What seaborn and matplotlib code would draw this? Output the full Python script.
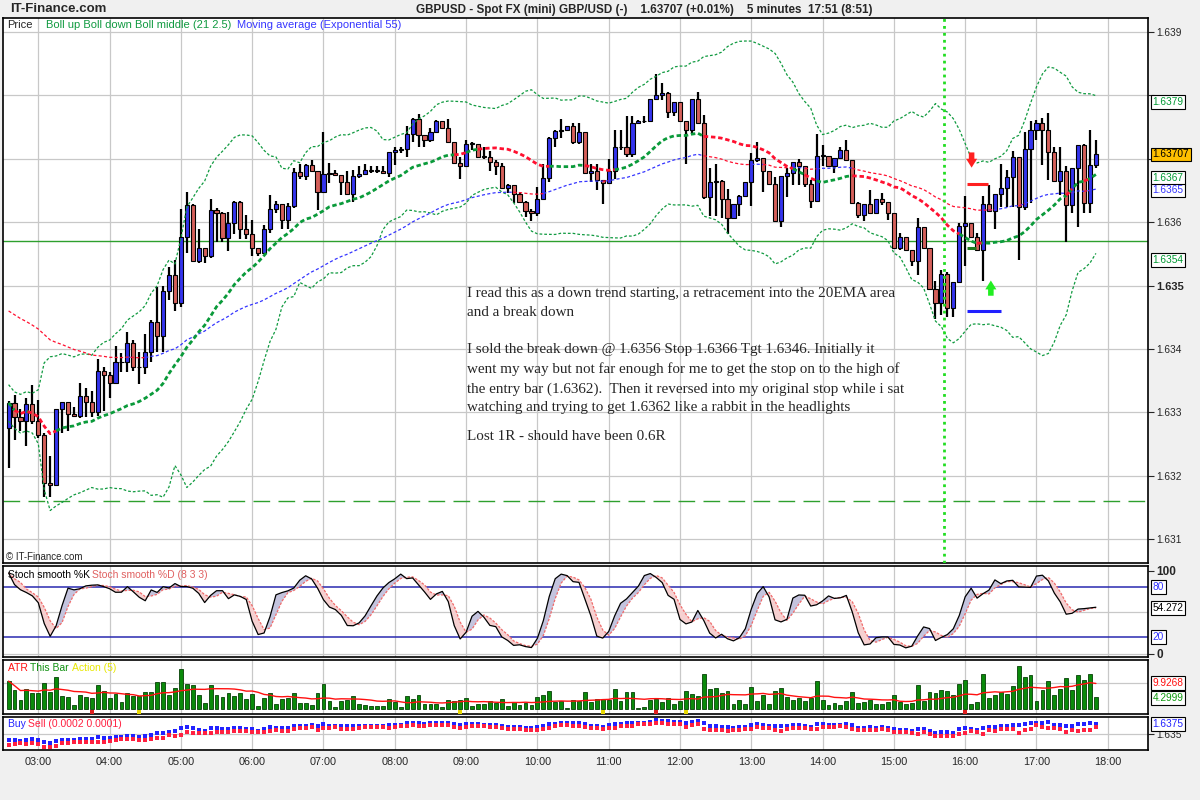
import numpy as np
import pandas as pd
import matplotlib
matplotlib.use("Agg")
import matplotlib.pyplot as plt
import seaborn as sns

# GBPUSD 5 minute bars, 02:35 -> 17:50
first_open = 1.63275
close = [
    1.63315, 1.63292, 1.63287, 1.63313, 1.63287, 1.63265, 1.63188, 1.63185, 1.63305, 1.63317, 1.63297, 1.63294,
    1.63326, 1.63317, 1.63300, 1.63365, 1.63359, 1.63347, 1.63379, 1.63380, 1.63409, 1.63371, 1.63372, 1.63395,
    1.63443, 1.63420, 1.63491, 1.63517, 1.63473, 1.63576, 1.63627, 1.63538, 1.63560, 1.63546, 1.63619, 1.63614,
    1.63575, 1.63598, 1.63632, 1.63590, 1.63581, 1.63559, 1.63552, 1.63590, 1.63620, 1.63629, 1.63603, 1.63626,
    1.63679, 1.63673, 1.63690, 1.63680, 1.63648, 1.63676, 1.63678, 1.63674, 1.63663, 1.63645, 1.63673, 1.63676,
    1.63683, 1.63681, 1.63681, 1.63677, 1.63710, 1.63714, 1.63715, 1.63739, 1.63763, 1.63738, 1.63730, 1.63742,
    1.63760, 1.63749, 1.63726, 1.63693, 1.63688, 1.63723, 1.63723, 1.63703, 1.63703, 1.63695, 1.63688, 1.63654,
    1.63659, 1.63644, 1.63632, 1.63618, 1.63614, 1.63636, 1.63669, 1.63732, 1.63744, 1.63745, 1.63751, 1.63726,
    1.63742, 1.63677, 1.63681, 1.63666, 1.63662, 1.63681, 1.63718, 1.63719, 1.63707, 1.63757, 1.63759, 1.63760,
    1.63795, 1.63801, 1.63803, 1.63773, 1.63789, 1.63759, 1.63745, 1.63795, 1.63756, 1.63639, 1.63663, 1.63665,
    1.63636, 1.63606, 1.63628, 1.63641, 1.63663, 1.63698, 1.63701, 1.63680, 1.63660, 1.63602, 1.63673, 1.63677,
    1.63695, 1.63688, 1.63660, 1.63633, 1.63704, 1.63704, 1.63688, 1.63701, 1.63714, 1.63698, 1.63631, 1.63611,
    1.63629, 1.63615, 1.63636, 1.63632, 1.63615, 1.63560, 1.63576, 1.63556, 1.63538, 1.63592, 1.63559, 1.63494,
    1.63473, 1.63518, 1.63464, 1.63505, 1.63594, 1.63598, 1.63577, 1.63556, 1.63629, 1.63617, 1.63644, 1.63654,
    1.63672, 1.63703, 1.63624, 1.63716, 1.63746, 1.63756, 1.63746, 1.63710, 1.63665, 1.63680, 1.63627, 1.63685,
    1.63722, 1.63630, 1.63690, 1.63707,
]
high = [
    1.63318, 1.63328, 1.63305, 1.63322, 1.63344, 1.63320, 1.63267, 1.63231, 1.63305, 1.63317, 1.63317, 1.63309,
    1.63346, 1.63338, 1.63334, 1.63385, 1.63371, 1.63364, 1.63405, 1.63393, 1.63427, 1.63414, 1.63396, 1.63424,
    1.63446, 1.63497, 1.63499, 1.63530, 1.63541, 1.63620, 1.63647, 1.63629, 1.63590, 1.63559, 1.63636, 1.63623,
    1.63616, 1.63616, 1.63633, 1.63633, 1.63611, 1.63604, 1.63559, 1.63595, 1.63643, 1.63633, 1.63629, 1.63631,
    1.63685, 1.63692, 1.63692, 1.63698, 1.63678, 1.63742, 1.63693, 1.63682, 1.63666, 1.63681, 1.63682, 1.63689,
    1.63692, 1.63689, 1.63689, 1.63689, 1.63710, 1.63718, 1.63719, 1.63752, 1.63765, 1.63771, 1.63738, 1.63748,
    1.63761, 1.63760, 1.63763, 1.63726, 1.63703, 1.63730, 1.63727, 1.63723, 1.63719, 1.63712, 1.63698, 1.63694,
    1.63660, 1.63659, 1.63648, 1.63634, 1.63620, 1.63656, 1.63691, 1.63734, 1.63745, 1.63762, 1.63752, 1.63757,
    1.63756, 1.63742, 1.63691, 1.63691, 1.63666, 1.63699, 1.63745, 1.63745, 1.63767, 1.63767, 1.63761, 1.63767,
    1.63795, 1.63834, 1.63819, 1.63806, 1.63789, 1.63789, 1.63759, 1.63795, 1.63806, 1.63769, 1.63686, 1.63691,
    1.63666, 1.63652, 1.63628, 1.63643, 1.63663, 1.63709, 1.63726, 1.63701, 1.63680, 1.63672, 1.63673, 1.63685,
    1.63695, 1.63700, 1.63688, 1.63666, 1.63739, 1.63722, 1.63704, 1.63701, 1.63719, 1.63730, 1.63698, 1.63632,
    1.63629, 1.63651, 1.63636, 1.63646, 1.63632, 1.63615, 1.63583, 1.63576, 1.63556, 1.63607, 1.63592, 1.63559,
    1.63508, 1.63525, 1.63521, 1.63505, 1.63599, 1.63641, 1.63598, 1.63583, 1.63641, 1.63659, 1.63644, 1.63691,
    1.63683, 1.63713, 1.63703, 1.63742, 1.63760, 1.63761, 1.63764, 1.63772, 1.63719, 1.63719, 1.63688, 1.63685,
    1.63722, 1.63724, 1.63746, 1.63730,
]
low = [
    1.63212, 1.63256, 1.63271, 1.63247, 1.63281, 1.63259, 1.63167, 1.63166, 1.63185, 1.63268, 1.63271, 1.63292,
    1.63291, 1.63292, 1.63292, 1.63295, 1.63303, 1.63323, 1.63346, 1.63364, 1.63364, 1.63365, 1.63345, 1.63360,
    1.63380, 1.63395, 1.63395, 1.63477, 1.63460, 1.63467, 1.63551, 1.63538, 1.63535, 1.63536, 1.63543, 1.63568,
    1.63568, 1.63554, 1.63582, 1.63573, 1.63573, 1.63546, 1.63546, 1.63552, 1.63583, 1.63614, 1.63590, 1.63590,
    1.63622, 1.63668, 1.63666, 1.63680, 1.63619, 1.63661, 1.63661, 1.63674, 1.63643, 1.63645, 1.63632, 1.63670,
    1.63677, 1.63677, 1.63677, 1.63677, 1.63672, 1.63690, 1.63709, 1.63703, 1.63727, 1.63718, 1.63718, 1.63727,
    1.63741, 1.63749, 1.63726, 1.63693, 1.63668, 1.63688, 1.63714, 1.63703, 1.63700, 1.63681, 1.63674, 1.63654,
    1.63646, 1.63630, 1.63631, 1.63608, 1.63602, 1.63610, 1.63636, 1.63664, 1.63718, 1.63732, 1.63745, 1.63723,
    1.63723, 1.63677, 1.63664, 1.63651, 1.63628, 1.63662, 1.63668, 1.63714, 1.63702, 1.63702, 1.63757, 1.63756,
    1.63760, 1.63795, 1.63792, 1.63765, 1.63768, 1.63759, 1.63691, 1.63739, 1.63756, 1.63636, 1.63610, 1.63610,
    1.63606, 1.63582, 1.63606, 1.63609, 1.63641, 1.63625, 1.63695, 1.63648, 1.63660, 1.63602, 1.63592, 1.63640,
    1.63659, 1.63659, 1.63655, 1.63623, 1.63633, 1.63688, 1.63688, 1.63678, 1.63701, 1.63698, 1.63631, 1.63606,
    1.63602, 1.63615, 1.63615, 1.63627, 1.63603, 1.63560, 1.63556, 1.63556, 1.63531, 1.63517, 1.63559, 1.63494,
    1.63448, 1.63454, 1.63451, 1.63451, 1.63505, 1.63531, 1.63577, 1.63556, 1.63508, 1.63617, 1.63590, 1.63624,
    1.63624, 1.63624, 1.63541, 1.63619, 1.63631, 1.63730, 1.63690, 1.63666, 1.63665, 1.63643, 1.63569, 1.63614,
    1.63593, 1.63614, 1.63614, 1.63685,
]
ema_start = 1.6346  # EMA55 value at the first bar

# trade notes drawn on the chart
entry_level, stop_level, target_level = 1.6356, 1.6366, 1.6346
user_line = 1.6357
old_low_line = 1.6316
entry_marker_time = 15.70
note_lines = [
    "I read this as a down trend starting, a retracement into the 20EMA area",
    "and a break down",
    "I sold the break down @ 1.6356 Stop 1.6366 Tgt 1.6346. Initially it",
    "went my way but not far enough for me to get the stop on to the high of",
    "the entry bar (1.6362).  Then it reversed into my original stop while i sat",
    "watching and trying to get 1.6362 like a rabbit in the headlights",
    "Lost 1R - should have been 0.6R",
]
note_rows = [294, 313, 350, 369, 389, 408, 437]

main_boxes = [("1.6379", 1.6379, "#009933", "white"), ("1.63707", 1.63707, "black", "#FFC000"),
              ("1.6367", 1.6367, "#009933", "white"), ("1.6365", 1.6365, "#3333FF", "white"),
              ("1.6354", 1.6354, "#009933", "white")]
hidden_ticks = ["1.637", "1.638"]   # covered by the value boxes on the reference
yellow_action = [4.4167, 8.9167, 10.9167, 12.0833]
red_action = [3.75, 11.6667, 16.0]

# ---- derived series ----
n = len(close)
t = pd.date_range("2009-06-01 02:35", periods=n, freq="5min")
x = np.asarray(t.hour + t.minute / 60.0)
c = pd.Series(close)
o = c.shift(1).fillna(first_open)
h = pd.Series(np.maximum.reduce([np.array(high), o.values, c.values]))
l = pd.Series(np.minimum.reduce([np.array(low), o.values, c.values]))

mid = c.rolling(21, min_periods=1).mean()
sd = c.rolling(21, min_periods=2).std(ddof=0).bfill()
bb_up = mid + 2.5 * sd
bb_dn = mid - 2.5 * sd
ema = pd.Series([ema_start] + close[1:]).ewm(span=55, adjust=False).mean()

ll = l.rolling(8, min_periods=1).min()
hh = h.rolling(8, min_periods=1).max()
raw_k = 100 * (c - ll) / (hh - ll)
k = raw_k.rolling(3, min_periods=1).mean()
d = k.rolling(3, min_periods=1).mean()

rng = (h - l) * 1e4
atr = rng.rolling(14, min_periods=1).mean()
buy = h + 0.0002
sell = l - 0.0001

# ---- figure ----
sns.set_style("white")
plt.rcParams["font.family"] = ["Liberation Sans", "DejaVu Sans"]
fig = plt.figure(figsize=(12, 8), dpi=100, facecolor="#F0F0F0")
W, H = 1200, 800

def panel(top, bottom):
    return fig.add_axes([3 / W, 1 - bottom / H, 1145 / W, (bottom - top) / H], facecolor="white")

ax = panel(18, 563)
ax_st = panel(566, 657)
ax_atr = panel(660, 714)
ax_bs = panel(717, 750)
xlim = (2.505, 18.564)
hours = np.arange(3, 19)
grid_c = "#C8C8C8"

for a in (ax, ax_st, ax_atr, ax_bs):
    a.set_xlim(*xlim)
    a.set_xticks(hours)
    a.tick_params(axis="x", labelbottom=False, length=0)
    for v in hours:
        a.axvline(v, color=grid_c, lw=0.9, zorder=0)
    for s in a.spines.values():
        s.set_color("black")
        s.set_linewidth(1.2)
    a.yaxis.tick_right()
    a.tick_params(axis="y", length=4, width=0.8, labelsize=7.3, pad=2, direction="out", right=True)

ax_bs.set_xticklabels([f"{v:02d}:00" for v in hours])
ax_bs.tick_params(axis="x", labelbottom=True, length=3, labelsize=7.8, pad=2)

def two_tone(a, xs, ys, above, c_up, c_dn, **kw):
    above = np.asarray(above)
    m_up = above.copy()
    m_up[1:] |= above[:-1]
    m_dn = ~above
    m_dn[1:] |= ~above[:-1]
    a.plot(xs, np.where(m_up, ys, np.nan), color=c_up, **kw)
    a.plot(xs, np.where(m_dn, ys, np.nan), color=c_dn, **kw)

def right_box(a, y, text, color, fc="white", weight="normal"):
    a.text(1.004, y, text, transform=a.get_yaxis_transform(), ha="left", va="center",
           fontsize=7.3, color=color, fontweight=weight, clip_on=False, zorder=10,
           bbox=dict(boxstyle="square,pad=0.18", fc=fc, ec="black", lw=0.8))

def header(a, parts, y, x0=0.004, size=7.5):
    r = fig.canvas.get_renderer()
    xx = x0
    for s, col in parts:
        tx = a.text(xx, y, s + " ", transform=a.transAxes, color=col, fontsize=size, va="center", ha="left", zorder=10)
        xx += tx.get_window_extent(renderer=r).width / a.bbox.width

# ---- main price panel ----
ax.set_ylim(1.630625, 1.63922)
yt = np.round(np.arange(1.631, 1.6391, 0.001), 3)
ax.set_yticks(yt)
ax.set_yticklabels(["" if f"{v:.3f}" in hidden_ticks else f"{v:.3f}" for v in yt])
for lab in ax.get_yticklabels():
    if lab.get_text() == "1.635":
        lab.set_fontweight("bold")
        lab.set_fontsize(8)
for v in yt:
    ax.axhline(v, color=grid_c, lw=0.9, zorder=0)

ax.axhline(user_line, color="#2EA02E", lw=1.0, zorder=1)
ax.axhline(old_low_line, color="#2EA02E", lw=1.0, dashes=(12, 6), zorder=1)

bw = 0.058
is_up = (c >= o).values
body_lo = np.minimum(o, c)
body_h = np.maximum(np.abs(c - o), 0.000012)
ax.vlines(x, l, h, color="black", lw=1.6, zorder=3)
ax.bar(x, body_h, bottom=body_lo, width=bw, color=np.where(is_up, "#3434EE", "#D5605A"),
       edgecolor="black", linewidth=0.8, zorder=4)

sns.lineplot(x=x, y=bb_up.values, ax=ax, color="#109A40", lw=0.9, linestyle=(0, (2.2, 1.6)), zorder=5)
sns.lineplot(x=x, y=bb_dn.values, ax=ax, color="#109A40", lw=0.9, linestyle=(0, (2.2, 1.6)), zorder=5)
two_tone(ax, x, ema.values, (c >= ema).values, "#3535FF", "#FF1030", lw=0.9, linestyle=(0, (2.5, 1.8)), zorder=5)
two_tone(ax, x, mid.values, (c >= mid).values, "#0A9A3A", "#FF1030", lw=2.0, linestyle=(0, (1.6, 1.0)), zorder=6)

ax.axvline(entry_marker_time, color="#22DD22", lw=2.0, linestyle=(0, (1, 1.5)), zorder=6)
ax.hlines(stop_level, 16.02, 16.32, color="#FF2020", lw=2.2, zorder=7)
ax.hlines(target_level, 16.02, 16.50, color="#2020FF", lw=2.2, zorder=7)
ax.hlines(entry_level, 16.02, 16.15, color="#1E7A1E", lw=2.2, zorder=7)
arrow_style = "simple,head_width=1.0,head_length=0.8,tail_width=0.5"
ax.annotate("", xy=(16.09, 1.63686), xytext=(16.09, 1.63710),
            arrowprops=dict(arrowstyle=arrow_style, color="#FF2020", lw=0, shrinkA=0, shrinkB=0,
                            mutation_scale=8), zorder=8)
ax.annotate("", xy=(16.36, 1.63508), xytext=(16.36, 1.63484),
            arrowprops=dict(arrowstyle=arrow_style, color="#22EE22", lw=0, shrinkA=0, shrinkB=0,
                            mutation_scale=8), zorder=8)

for s, row in zip(note_lines, note_rows):
    ax.text((467 - 3) / 1145, (563 - row) / 545, s, transform=ax.transAxes, fontsize=10.9,
            family=["Liberation Serif", "DejaVu Serif"], va="center", ha="left", zorder=9)

ax.text(0.004, (563 - 25) / 545, "Price", transform=ax.transAxes, fontsize=8, va="center", zorder=10)
ax.text((46 - 3) / 1145, (563 - 25) / 545, "Boll up Boll down Boll middle (21 2.5)", transform=ax.transAxes,
        fontsize=8, color="#109A40", va="center", zorder=10)
ax.text((237 - 3) / 1145, (563 - 25) / 545, "Moving average (Exponential 55)", transform=ax.transAxes,
        fontsize=8, color="#3535FF", va="center", zorder=10)
ax.text(0.003, (563 - 557) / 545, "\u00a9 IT-Finance.com", transform=ax.transAxes, fontsize=7,
        va="center", ha="left", zorder=9)
for s, v, col, fc in main_boxes:
    right_box(ax, v, s, col, fc)

# ---- stochastic panel ----
ax_st.set_ylim(-4, 105.5)
ax_st.set_yticks([0, 100])
ax_st.set_yticklabels(["0", "100"], fontweight="bold", fontsize=8.5)
ax_st.axhline(50, color=grid_c, lw=0.9, zorder=0)
ax_st.axhline(0, color=grid_c, lw=0.9, zorder=0)
ax_st.axhline(80, color="#2A2AB0", lw=1.1, zorder=1)
ax_st.axhline(20, color="#2A2AB0", lw=1.1, zorder=1)
ax_st.fill_between(x, k, d, where=(k >= d).values, interpolate=True, color="#C4C4DE", lw=0, zorder=2)
ax_st.fill_between(x, k, d, where=(k < d).values, interpolate=True, color="#F6D0D0", lw=0, zorder=2)
sns.lineplot(x=x, y=d.values, ax=ax_st, color="#F06A6A", lw=0.9, linestyle=(0, (2, 1.2)), zorder=3)
sns.lineplot(x=x, y=k.values, ax=ax_st, color="black", lw=0.9, zorder=4)
header(ax_st, [("Stoch smooth %K", "black"), ("Stoch smooth %D (8 3 3)", "#E06060")], 0.905)
right_box(ax_st, 80, "80", "#3333FF")
right_box(ax_st, 20, "20", "#3333FF")
right_box(ax_st, float(d.iloc[-1]), "54.272", "black")

# ---- ATR panel ----
ax_atr.set_ylim(-1.7, 18.5)
ax_atr.set_yticks([])
ax_atr.axhline(10, color=grid_c, lw=0.9, zorder=0)
ax_atr.bar(x, rng, width=0.054, bottom=0, color="#0A8A0A", edgecolor="#064006", linewidth=0.6, zorder=2)
sns.lineplot(x=x, y=atr.values, ax=ax_atr, color="#FF1010", lw=1.0, zorder=3)
ax_atr.plot(yellow_action, [-0.8] * len(yellow_action), "s", ms=2.8, color="#E8D800", mew=0, zorder=4)
ax_atr.plot(red_action, [-0.8] * len(red_action), "s", ms=2.8, color="#E02020", mew=0, zorder=4)
header(ax_atr, [("ATR", "#FF1010"), ("This Bar", "#109010"), ("Action (5)", "#E8E800")], 0.86)
right_box(ax_atr, 9.9268, "9.9268", "#FF1010")
right_box(ax_atr, 4.2999, "4.2999", "#109A10")

# ---- buy / sell panel ----
ax_bs.set_ylim(1.63083, 1.63933)
ax_bs.set_yticks([1.635])
ax_bs.set_yticklabels(["1.635"])
ax_bs.axhline(1.635, color=grid_c, lw=0.9, zorder=0)
ax_bs.plot(x, buy, "s", ms=2.2, color="#2222FF", mew=0, zorder=3)
ax_bs.plot(x, sell, "s", ms=2.2, color="#FF2040", mew=0, zorder=3)
header(ax_bs, [("Buy", "#2222FF"), ("Sell (0.0002 0.0001)", "#FF2040")], 0.8)
right_box(ax_bs, 1.6375, "1.6375", "#2222FF")

for a in (ax, ax_st, ax_atr, ax_bs):
    a.set_xlabel("")
    a.set_ylabel("")

fig.text(10 / W, 1 - 9 / H, "IT-Finance.com", fontsize=9.5, fontweight="bold", va="center", ha="left")
fig.text(416 / W, 1 - 10 / H,
         "GBPUSD - Spot FX (mini) GBP/USD (-)    1.63707 (+0.01%)    5 minutes  17:51 (8:51)",
         fontsize=8.4, fontweight="bold", va="center", ha="left")

fig.savefig("out.png", dpi=100, facecolor=fig.get_facecolor())
